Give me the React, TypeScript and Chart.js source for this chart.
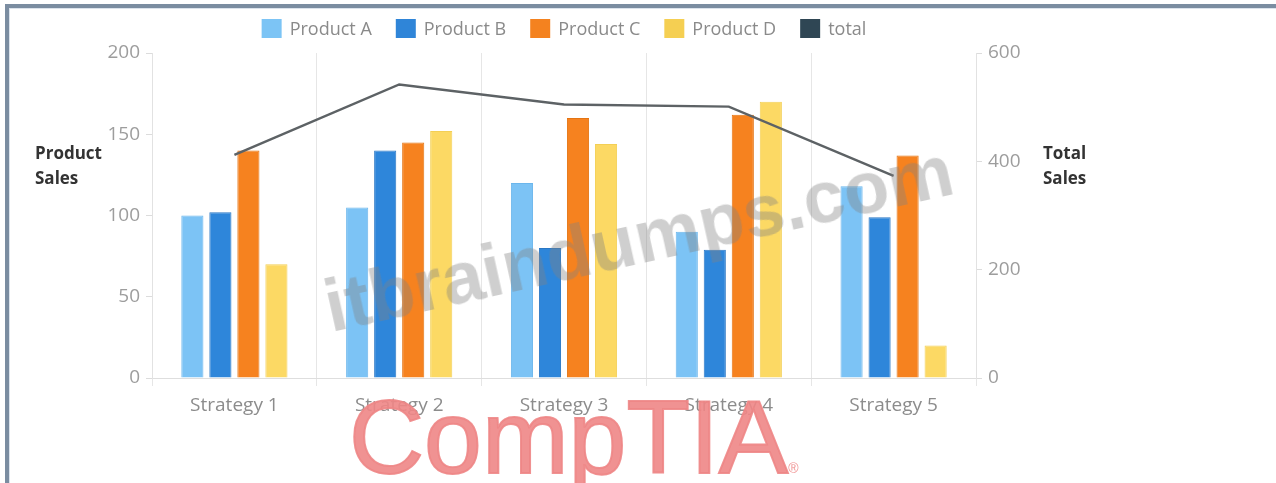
import React, { useEffect, useRef } from "react";
import { Chart, registerables } from "chart.js";

Chart.register(...registerables);

const categories = ["Strategy 1", "Strategy 2", "Strategy 3", "Strategy 4", "Strategy 5"];
const productA = [100, 105, 120, 90, 118];
const productB = [102, 140, 80, 79, 99];
const productC = [140, 145, 160, 162, 137];
const productD = [70, 152, 144, 170, 20];
const totalSales = [412, 542, 505, 501, 373];

const seriesNames = ["Product A", "Product B", "Product C", "Product D", "total"];
const barFills = ["#7cc3f5", "#2e86da", "#f6821f", "#fcd964"];
const barBorders = ["#6bb6ec", "#2a77c4", "#e47413", "#f3cf55"];
const legendColors = ["#7cc4f5", "#2f85d8", "#f4821f", "#f5cf52", "#2f4654"];
const lineColor = "#5d6265";

const FONT = "'Open Sans', 'Noto Sans', sans-serif";

const customLegend = {
  id: "customLegend",
  afterDraw(chart: any) {
    const ctx = chart.ctx;
    const area = chart.chartArea;
    ctx.save();
    ctx.font = `18px ${FONT}`;
    const boxW = 20;
    const boxH = 19;
    const gapText = 8;
    const gapItem = 24;
    const widths = seriesNames.map((n) => boxW + gapText + ctx.measureText(n).width);
    const total = widths.reduce((a, b) => a + b, 0) + gapItem * (widths.length - 1);
    let x = (area.left + area.right) / 2 - total / 2;
    const top = 19;
    seriesNames.forEach((name, i) => {
      ctx.fillStyle = legendColors[i];
      ctx.fillRect(x, top, boxW, boxH);
      ctx.fillStyle = "#8a8a8a";
      ctx.textBaseline = "middle";
      ctx.textAlign = "left";
      ctx.fillText(name, x + boxW + gapText, top + boxH / 2 + 1);
      x += widths[i] + gapItem;
    });
    ctx.restore();
  },
};

export default function App() {
  const canvasRef = useRef<HTMLCanvasElement | null>(null);

  useEffect(() => {
    const canvas = canvasRef.current;
    if (!canvas) return;
    const barSets = [productA, productB, productC, productD].map((data, i) => ({
      type: "bar" as const,
      label: seriesNames[i],
      data,
      backgroundColor: barFills[i],
      borderColor: barBorders[i],
      borderWidth: 1,
      yAxisID: "y",
      order: 1,
      categoryPercentage: 0.68,
      barPercentage: 0.79,
    }));
    const chart = new Chart(canvas, {
      type: "bar",
      data: {
        labels: categories,
        datasets: [
          ...barSets,
          {
            type: "line" as const,
            label: seriesNames[4],
            data: totalSales,
            borderColor: lineColor,
            backgroundColor: legendColors[4],
            borderWidth: 2.5,
            pointRadius: 0,
            tension: 0,
            fill: false,
            yAxisID: "y1",
            order: 0,
          },
        ],
      } as any,
      options: {
        responsive: false,
        animation: false,
        layout: { padding: { top: 53, left: 0, right: 0, bottom: 0 } },
        plugins: {
          legend: { display: false },
          tooltip: { enabled: false },
        },
        scales: {
          x: {
            grid: { color: "#e6e6e6", offset: true, tickLength: 8, drawTicks: true },
            border: { color: "#dedede" },
            ticks: { color: "#8c8c8c", font: { size: 19, family: FONT }, padding: 8 },
            afterFit: (s: any) => {
              s.height = 105;
            },
          },
          y: {
            position: "left",
            min: 0,
            max: 200,
            ticks: { stepSize: 50, color: "#9d9d9d", font: { size: 19, family: FONT }, padding: 6 },
            grid: { drawOnChartArea: false, drawTicks: true, tickLength: 6, color: "#dcdcdc" },
            border: { color: "#e2e2e2" },
            afterFit: (s: any) => {
              s.width = 152;
            },
          },
          y1: {
            position: "right",
            min: 0,
            max: 600,
            ticks: { stepSize: 200, color: "#9d9d9d", font: { size: 19, family: FONT }, padding: 6 },
            grid: { drawOnChartArea: false, drawTicks: true, tickLength: 6, color: "#dcdcdc" },
            border: { color: "#e2e2e2" },
            afterFit: (s: any) => {
              s.width = 300;
            },
          },
        },
      } as any,
      plugins: [customLegend],
    });
    return () => chart.destroy();
  }, []);

  const titleStyle: React.CSSProperties = {
    position: "absolute",
    fontFamily: FONT,
    fontWeight: 700,
    fontSize: 17,
    lineHeight: "25px",
    color: "#333",
    whiteSpace: "nowrap",
  };

  return (
    <div
      style={{
        position: "absolute",
        left: 0,
        top: 0,
        width: 1276,
        height: 483,
        background: "#fff",
        overflow: "hidden",
      }}
    >
      <div style={{ position: "absolute", left: 5, top: 4, width: 1271, height: 4, background: "#7b8da1" }} />
      <div style={{ position: "absolute", left: 5, top: 4, width: 4, height: 479, background: "#7b8da1" }} />
      <div style={{ position: "absolute", left: 9, top: 8, width: 1267, height: 1, background: "#dbe3ec" }} />
      <div style={{ position: "absolute", left: 9, top: 8, width: 1, height: 475, background: "#dbe3ec" }} />
      <canvas
        ref={canvasRef}
        width={1276}
        height={483}
        style={{ position: "absolute", left: 0, top: 0, width: 1276, height: 483 }}
      />
      <div style={{ ...titleStyle, left: 35, top: 140 }}>
        Product
        <br />
        Sales
      </div>
      <div style={{ ...titleStyle, left: 1043, top: 140 }}>
        Total
        <br />
        Sales
      </div>
      <div
        style={{
          position: "absolute",
          left: 330,
          top: 328,
          transformOrigin: "0 0",
          transform: "rotate(-12.5deg) translateY(-78%)",
          fontFamily: "'Liberation Sans', Arial, sans-serif",
          fontWeight: 700,
          fontSize: 74,
          lineHeight: 1,
          color: "rgba(130,130,130,0.38)",
          whiteSpace: "nowrap",
          pointerEvents: "none",
        }}
      >
        itbraindumps.com
      </div>
      <div
        style={{
          position: "absolute",
          left: 349,
          top: 385,
          fontFamily: "'Liberation Sans', Arial, sans-serif",
          fontWeight: 400,
          fontSize: 104,
          lineHeight: 1,
          color: "rgba(238,134,134,0.9)",
          WebkitTextStroke: "2px rgba(238,134,134,0.9)",
          whiteSpace: "nowrap",
          pointerEvents: "none",
        }}
      >
        CompTIA<span style={{ fontSize: 14, verticalAlign: "baseline", WebkitTextStroke: "0px" }}>®</span>
      </div>
    </div>
  );
}
